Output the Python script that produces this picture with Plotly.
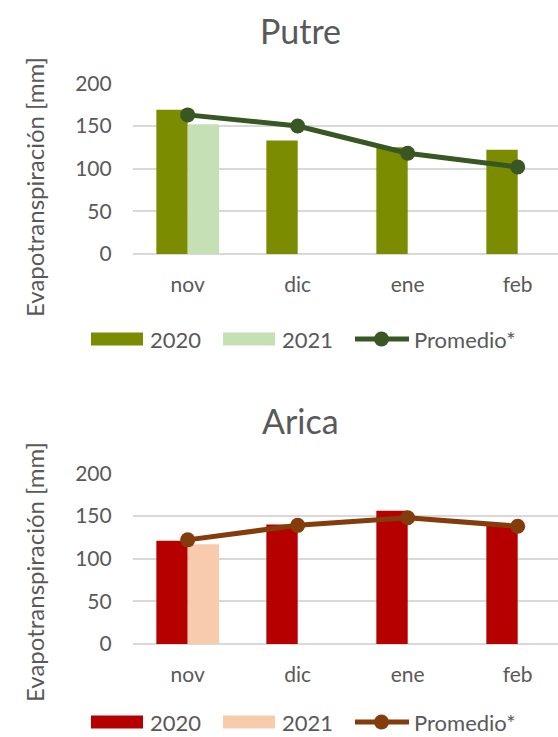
import plotly.graph_objects as go

# Monthly evapotranspiration (mm)
months = ["nov", "dic", "ene", "feb"]

putre_2020 = [169, 133, 125, 122]
putre_2021 = [152, None, None, None]
putre_prom = [163, 150, 118, 102]

arica_2020 = [121, 140, 156, 139]
arica_2021 = [117, None, None, None]
arica_prom = [122, 139, 148, 138]

yticks = [0, 50, 100, 150, 200]
series_names = ["2020", "2021", "Promedio*"]

W, H = 558, 737
FONT = "Lato, Carlito, Calibri, sans-serif"
TXT = "#595959"
GRID = "#D9D9D9"

panels = [
    dict(title="Putre", v20=putre_2020, v21=putre_2021, prom=putre_prom,
         c20="#7B8C00", c21="#C5E0B4", cl="#385723",
         y0=254, y200=83.3, title_y=30, legend_y=339, axtitle_y=187),
    dict(title="Arica", v20=arica_2020, v21=arica_2021, prom=arica_prom,
         c20="#B60000", c21="#F8CBAD", cl="#843C0C",
         y0=644, y200=473.3, title_y=421, legend_y=722, axtitle_y=572),
]

x_left = 132.7
cat_w = 110.0

fig = go.Figure()
shapes = []
annotations = []

for i, p in enumerate(panels, start=1):
    xa = "x" if i == 1 else f"x{i}"
    ya = "y" if i == 1 else f"y{i}"
    fig.add_trace(go.Bar(x=months, y=p["v20"], name=series_names[0],
                         marker=dict(color=p["c20"], line=dict(width=0)),
                         xaxis=xa, yaxis=ya, offsetgroup="a", showlegend=False))
    fig.add_trace(go.Bar(x=months, y=p["v21"], name=series_names[1],
                         marker=dict(color=p["c21"], line=dict(width=0)),
                         xaxis=xa, yaxis=ya, offsetgroup="b", showlegend=False))
    fig.add_trace(go.Scatter(x=months, y=p["prom"], name=series_names[2],
                             mode="lines+markers",
                             line=dict(color=p["cl"], width=5),
                             marker=dict(color=p["cl"], size=15),
                             xaxis=xa, yaxis=ya, showlegend=False))

    xdom = [x_left / W, 1.0]
    ydom = [1 - p["y0"] / H, 1 - p["y200"] / H]
    xr = [-0.5, -0.5 + (W - x_left) / cat_w]
    xkey = "xaxis" if i == 1 else f"xaxis{i}"
    ykey = "yaxis" if i == 1 else f"yaxis{i}"
    fig.update_layout(**{
        xkey: dict(domain=xdom, anchor=ya, type="category", range=xr,
                   automargin=False,
                   showgrid=False, showline=False, zeroline=False, ticks="",
                   ticklabelstandoff=16,
                   tickfont=dict(family=FONT, size=21, color=TXT)),
        ykey: dict(domain=ydom, anchor=xa, range=[0, 200], tickvals=yticks,
                   automargin=False,
                   showgrid=True, gridcolor=GRID, gridwidth=2,
                   zeroline=True, zerolinecolor=GRID, zerolinewidth=2,
                   showline=False, ticks="", ticklabelstandoff=20,
                   tickfont=dict(family=FONT, size=21, color=TXT)),
    })

    # panel title and axis title
    annotations.append(dict(text=p["title"], x=300 / W, y=1 - p["title_y"] / H,
                            xref="paper", yref="paper", showarrow=False,
                            xanchor="center", yanchor="middle",
                            font=dict(family=FONT, size=34, color=TXT)))
    annotations.append(dict(text="Evapotranspiración [mm]", x=34 / W,
                            y=1 - p["axtitle_y"] / H, xref="paper", yref="paper",
                            showarrow=False, textangle=-90,
                            xanchor="center", yanchor="middle",
                            font=dict(family=FONT, size=24, color=TXT)))

    # legend row
    ly = p["legend_y"]
    for (x0, x1, col, tx, name) in [(91, 143, p["c20"], 148, series_names[0]),
                                    (223, 275, p["c21"], 280, series_names[1])]:
        shapes.append(dict(type="rect", xref="paper", yref="paper",
                           x0=x0 / W, x1=x1 / W,
                           y0=1 - (ly + 6.5) / H, y1=1 - (ly - 6.5) / H,
                           fillcolor=col, line=dict(width=0)))
        annotations.append(dict(text=name, x=tx / W, y=1 - ly / H,
                                xref="paper", yref="paper", showarrow=False,
                                xanchor="left", yanchor="middle",
                                font=dict(family=FONT, size=22, color=TXT)))
    shapes.append(dict(type="line", xref="paper", yref="paper",
                       x0=355 / W, x1=409 / W, y0=1 - ly / H, y1=1 - ly / H,
                       line=dict(color=p["cl"], width=5)))
    shapes.append(dict(type="circle", xref="paper", yref="paper",
                       x0=374 / W, x1=389 / W,
                       y0=1 - (ly + 7.5) / H, y1=1 - (ly - 7.5) / H,
                       fillcolor=p["cl"], line=dict(width=0)))
    annotations.append(dict(text=series_names[2], x=412 / W, y=1 - ly / H,
                            xref="paper", yref="paper", showarrow=False,
                            xanchor="left", yanchor="middle",
                            font=dict(family=FONT, size=22, color=TXT)))

fig.update_layout(
    width=W, height=H,
    margin=dict(l=0, r=0, t=0, b=0, pad=0, autoexpand=False),
    paper_bgcolor="white", plot_bgcolor="white",
    barmode="group", bargap=0.43, bargroupgap=0,
    showlegend=False,
    shapes=shapes, annotations=annotations,
    font=dict(family=FONT, color=TXT),
)

fig.write_html("out.html")
